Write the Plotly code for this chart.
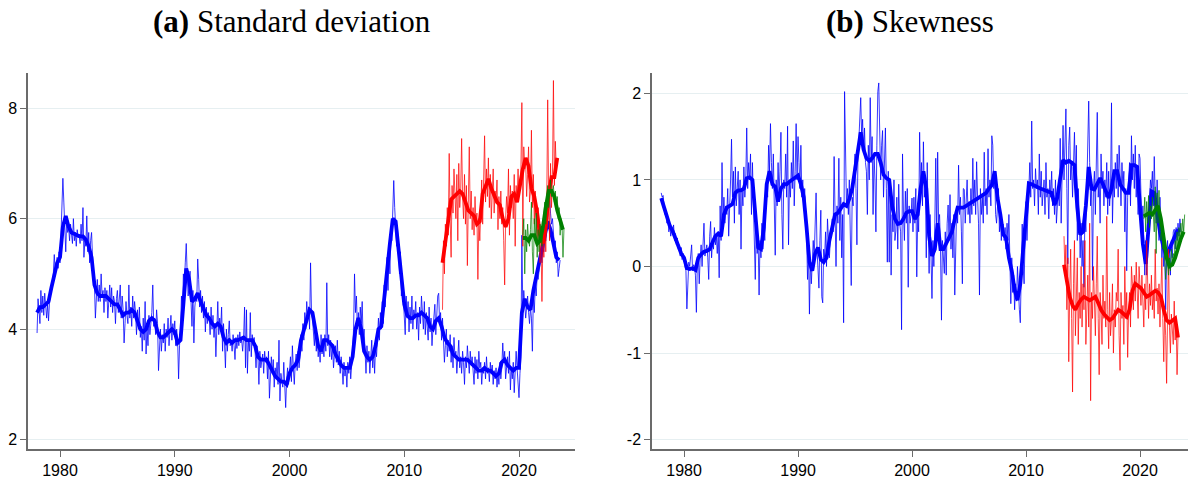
import numpy as np
import plotly.graph_objects as go

# ---------------- data ----------------
# monthly series start dates (decimal years) and quarterly smoothed series
BLUE_START = 1978.0
RED_START = 2013 + 4 / 12
GREEN_START = 2020 + 4 / 12

sd_blue = [
    3.93, 4.55, 4.35, 4.1, 4.7, 4.3, 4.6, 4.25, 4.65, 4.4, 4.2, 4.45,
    4.15, 4.5, 4.6, 4.7, 4.85, 5.0, 5.35, 5.05, 5.2, 5.3, 5.1, 5.4,
    5.2, 5.7, 6.1, 6.73, 6.3, 5.9, 5.4, 6.0, 5.75, 5.85, 5.6, 5.9,
    5.7, 5.55, 6.0, 5.6, 5.75, 5.5, 5.8, 5.65, 5.7, 5.55, 5.9, 5.6,
    6.2, 5.3, 5.6, 5.5, 6.05, 5.4, 5.75, 5.2, 5.6, 5.75, 5.3, 5.0,
    4.8, 4.2, 4.6, 4.9, 4.5, 4.8, 4.5, 5.0, 4.6, 4.7, 4.3, 4.75,
    4.5, 4.7, 4.2, 4.6, 4.8, 4.4, 4.75, 4.3, 4.6, 4.5, 4.1, 4.55,
    4.7, 4.3, 4.5, 4.8, 4.2, 4.6, 4.35, 3.75, 4.1, 4.5, 4.25, 4.1,
    4.8, 4.2, 4.4, 4.05, 4.6, 4.2, 4.5, 4.3, 3.9, 4.35, 4.0, 4.4,
    3.85, 4.05, 3.6, 4.2, 3.8, 4.5, 3.55, 4.0, 3.7, 4.25, 3.9, 4.1,
    4.3, 4.8, 4.05, 4.2, 3.9, 4.35, 4.1, 3.25, 3.8, 4.0, 3.6, 3.9,
    3.75, 4.1, 3.6, 4.0, 3.85, 4.2, 3.7, 3.95, 4.25, 3.8, 4.1, 3.9,
    4.15, 3.7, 4.0, 3.8, 3.1, 3.7, 4.0, 4.6, 4.2, 5.0, 4.8, 5.2,
    5.55, 5.0, 4.6, 4.8, 5.05, 4.5, 4.05, 4.7, 3.75, 4.4, 4.6, 4.5,
    5.27, 4.9, 4.4, 4.7, 4.3, 4.6, 4.2, 4.5, 3.95, 4.4, 4.1, 4.3,
    4.2, 3.9, 4.4, 4.0, 4.25, 3.85, 4.1, 3.5, 4.0, 4.5, 3.9, 4.2,
    4.0, 4.4, 3.6, 4.1, 3.75, 3.3, 4.0, 3.6, 3.9, 4.15, 3.7, 3.8,
    3.6, 3.9, 3.7, 3.45, 3.85, 3.65, 3.9, 3.7, 3.95, 3.75, 3.8, 3.6,
    3.85, 4.4, 3.3, 4.35, 3.2, 3.8, 3.6, 4.3, 3.5, 3.9, 3.7, 3.85,
    3.6, 3.3, 3.7, 3.5, 3.0, 3.6, 3.3, 3.45, 3.55, 3.2, 3.6, 3.4,
    3.5, 3.1, 3.6, 2.75, 3.3, 3.5, 3.2, 3.45, 2.95, 3.3, 3.15, 3.4,
    3.0, 3.8, 2.7, 3.2, 3.05, 2.95, 3.4, 2.8, 2.58, 3.1, 3.3, 3.0,
    3.2, 3.5, 3.05, 3.7, 3.3, 3.0, 3.4, 3.55, 3.25, 3.6, 3.3, 3.5,
    3.9, 3.6, 4.1, 3.8, 4.3, 4.0, 4.5, 4.2, 4.4, 4.0, 5.2, 4.3,
    4.2, 4.0, 3.7, 4.1, 3.6, 3.85, 3.5, 3.7, 3.4, 3.9, 3.55, 3.7,
    3.5, 3.9, 3.6, 4.84, 3.7, 3.9, 3.5, 3.8, 3.45, 3.7, 3.3, 3.55,
    3.7, 3.4, 3.8, 3.35, 3.6, 3.2, 3.5, 3.3, 3.0, 3.4, 3.15, 3.3,
    2.95, 3.4, 3.2, 3.5, 3.1, 3.35, 3.6, 4.0, 5.0, 4.3, 4.6, 4.0,
    4.3, 3.9, 4.4, 4.1, 4.5, 3.8, 4.0, 3.5, 3.2, 3.7, 3.4, 3.6,
    3.2, 3.5, 3.8, 3.3, 3.6, 3.2, 3.7, 3.5, 3.9, 4.2, 3.8, 4.3,
    4.0, 4.5, 4.1, 4.8, 4.4, 4.9, 5.3, 4.7, 5.4, 5.0, 5.8, 5.6,
    6.1, 6.69, 6.2, 5.9, 5.5, 5.8, 5.3, 5.0, 5.4, 4.6, 4.9, 4.5,
    4.3, 3.9, 4.6, 4.2, 4.5, 3.95, 4.4, 4.1, 4.6, 4.0, 4.35, 4.2,
    4.5, 4.0, 4.3, 3.8, 4.4, 4.1, 4.6, 4.2, 4.0, 4.5, 3.9, 4.3,
    4.1, 3.8, 4.4, 3.95, 4.2, 3.7, 4.0, 4.3, 4.45, 3.9, 4.2, 4.6,
    4.65, 4.1, 4.3, 3.8, 4.2, 3.9, 3.4, 3.7, 4.0, 3.5, 3.8, 3.6,
    3.9, 3.4, 3.7, 3.3, 3.85, 3.5, 3.6, 3.2, 3.5, 3.8, 3.3, 3.5,
    3.2, 3.6, 3.4, 3.0, 3.5, 3.3, 3.7, 3.4, 3.2, 3.6, 3.35, 3.5,
    3.3, 3.0, 3.5, 3.2, 3.45, 3.1, 3.6, 3.3, 3.4, 3.0, 3.3, 3.2,
    3.4, 3.1, 3.5, 3.2, 3.3, 3.05, 3.4, 3.2, 3.35, 3.0, 3.25, 3.1,
    3.3, 2.95, 3.2, 3.0, 3.4, 3.1, 3.3, 3.75, 3.4, 3.6, 3.1, 3.35,
    3.5, 3.2, 3.6, 2.9, 3.3, 3.1, 3.4, 2.85, 3.2, 3.6, 3.3, 3.1,
    2.76, 3.2, 3.5, 5.7, 4.3, 4.7, 4.5, 4.2, 4.4, 4.6, 4.3, 4.1,
    4.4, 4.2, 3.6, 4.6, 4.3, 4.8, 4.6, 5.0, 4.9, 5.1, 5.3, 5.4,
    5.2, 5.5, 5.4, 5.7, 5.6, 5.8, 6.0, 6.2, 6.38, 6.1, 5.9, 6.0,
    5.7, 5.5, 5.6, 5.2, 5.4, 4.95, 5.1, 5.25,
]

sd_blue_smooth = [
    4.3, 4.4, 4.4, 4.45, 4.5, 4.75, 5.0, 5.2, 5.3, 5.85, 6.05, 5.85,
    5.75, 5.72, 5.7, 5.68, 5.68, 5.62, 5.5, 5.3, 4.8, 4.65, 4.6, 4.6,
    4.6, 4.55, 4.5, 4.45, 4.45, 4.35, 4.25, 4.3, 4.3, 4.35, 4.3, 4.15,
    4.0, 3.95, 4.0, 4.15, 4.2, 4.15, 3.95, 3.85, 3.85, 3.9, 3.95, 4.0,
    3.95, 3.75, 3.8, 4.5, 5.1, 4.9, 4.5, 4.55, 4.65, 4.5, 4.35, 4.25,
    4.2, 4.1, 4.05, 4.1, 4.05, 3.85, 3.75, 3.8, 3.75, 3.8, 3.8, 3.82,
    3.85, 3.8, 3.8, 3.8, 3.7, 3.5, 3.45, 3.45, 3.45, 3.35, 3.25, 3.15,
    3.1, 3.05, 3.05, 3.0, 3.2, 3.3, 3.35, 3.45, 3.8, 4.0, 4.2, 4.35,
    4.3, 4.0, 3.7, 3.6, 3.8, 3.8, 3.75, 3.7, 3.55, 3.45, 3.35, 3.3,
    3.3, 3.3, 3.5, 4.0, 4.2, 4.0, 3.6, 3.5, 3.45, 3.5, 3.7, 4.0,
    4.05, 4.6, 5.1, 5.55, 6.0, 5.95, 5.45, 4.9, 4.45, 4.25, 4.2, 4.2,
    4.25, 4.25, 4.3, 4.25, 4.2, 4.05, 4.0, 4.15, 4.2, 4.05, 3.85, 3.75,
    3.7, 3.55, 3.5, 3.45, 3.45, 3.45, 3.45, 3.4, 3.35, 3.3, 3.25, 3.25,
    3.3, 3.25, 3.25, 3.2, 3.15, 3.2, 3.4, 3.45, 3.35, 3.3, 3.25, 3.3,
    3.3, 4.3, 4.55, 4.4, 4.35, 4.7, 5.0, 5.2, 5.45, 5.75, 5.95, 5.8,
    5.55, 5.3, 5.25,
]

sd_red = [
    4.35, 5.6, 5.0, 5.9, 5.5, 6.2, 5.7, 7.18,
    6.0, 5.3, 6.6, 6.1, 6.9, 6.3, 6.0, 6.8, 5.6, 7.0, 6.2, 6.5,
    7.45, 6.4, 6.0, 6.8, 5.9, 6.6, 5.15, 6.3, 7.3, 6.0, 6.5, 5.8,
    6.2, 5.7, 6.4, 5.9, 6.1, 4.9, 6.0, 5.6, 6.3, 6.7, 5.9, 6.5,
    7.5, 6.3, 6.9, 6.4, 7.1, 6.2, 6.8, 6.0, 6.6, 6.9, 6.1, 6.5,
    6.3, 6.7, 5.8, 6.4, 6.0, 6.5, 5.9, 6.2, 5.6, 4.8, 6.0, 6.4,
    6.1, 6.9, 5.7, 6.6, 6.2, 6.5, 6.0, 6.8, 5.5, 6.6, 6.3, 6.9,
    6.4, 6.8, 6.9, 8.1, 5.5, 7.3, 6.9, 7.0, 6.4, 6.8, 7.3, 6.3,
    6.5, 7.6, 6.2, 6.8, 5.9, 6.5, 6.1, 5.5, 6.2, 5.8, 5.2, 5.6,
    4.5, 5.6, 5.3, 6.0, 5.4, 6.3, 8.15, 6.4, 5.6, 7.0, 6.2, 6.8,
    8.5, 6.6, 7.4, 6.9, 7.1,
]

sd_red_smooth = [
    5.2, 5.6, 5.9, 6.35, 6.4, 6.45, 6.5, 6.45, 6.3, 6.15, 6.1, 6.05,
    5.9, 5.95, 6.45, 6.6, 6.72, 6.55, 6.4, 6.3, 6.25, 6.0, 5.85, 6.0,
    6.4, 6.45, 6.3, 6.65, 6.9, 7.1, 6.95, 6.55, 6.4, 6.1, 5.7, 5.55,
    5.85, 6.45, 6.75, 6.75, 7.1,
]

sd_green = [
    5.7, 6.0, 5.0, 5.8, 5.4, 5.9, 5.6, 5.5,
    5.8, 6.3, 5.4, 5.0, 6.0, 5.6, 6.1, 5.3, 5.8, 5.4, 5.9, 5.7,
    5.5, 5.9, 6.1, 6.3, 5.9, 6.4, 6.6, 6.2, 6.5, 6.7, 6.4, 6.55,
    6.6, 6.3, 6.5, 6.2, 6.4, 6.0, 6.2, 5.7, 6.0, 5.9, 5.3, 5.8,
]

sd_green_smooth = [
    5.65, 5.65, 5.6, 5.7, 5.7, 5.55, 5.6, 5.85, 6.2, 6.5, 6.5, 6.4,
    6.15, 5.95, 5.8,
]

sk_blue = [
    0.85, 0.8, 0.82, 0.7, 0.6, 0.63, 0.5, 0.55, 0.4, 0.48, 0.35, 0.45,
    0.4, 0.48, 0.3, 0.38, 0.25, 0.33, 0.2, 0.25, 0.12, 0.22, 0.08, 0.15,
    0.1, 0.0, -0.05, -0.49, -0.05, 0.05, 0.0, 0.1, 0.25, -0.05, 0.02, 0.0,
    -0.1, -0.53, 0.05, 0.15, -0.2, 0.1, 0.25, 0.0, 0.2, 0.5, 0.12, 0.2,
    0.25, 0.1, -0.15, 0.35, 0.52, 0.1, 0.3, 0.2, 0.45, 0.25, 0.35, 0.15,
    0.4, -0.13, 0.7, 0.3, 1.2, 0.55, 0.8, 0.5, 0.7, 0.6, 0.9, 0.35,
    0.6, 1.0, 1.47, 0.8, 1.1, 0.5, 1.15, 0.7, 0.9, 1.1, 0.6, 1.0,
    0.2, 0.9, 0.7, 1.15, 0.8, 1.0, 1.6, 0.9, 1.2, 1.0, 1.3, 0.6,
    1.2, 0.8, 0.4, -0.15, 0.5, 0.15, 0.3, -0.33, 0.3, 0.1, 0.5, 0.2,
    0.5, 0.3, 0.7, 1.0, 0.8, 1.4, 1.1, 1.65, 1.2, 0.9, 1.3, 0.6,
    0.13, 1.0, 0.7, 1.2, 0.8, 1.1, 1.55, 0.6, 0.2, 1.0, 0.9, 1.3,
    0.8, 1.62, 0.25, 1.0, 0.8, 1.2, 0.9, 1.45, 0.7, 1.1, 1.65, 1.0,
    1.5, 1.2, 0.9, 1.4, 0.8, 1.0, 0.65, 0.9, 0.7, 0.4, -0.15, 0.2,
    -0.55, 0.1, -0.2, 0.0, 0.3, 0.1, 0.5, 0.85, 0.2, -0.1, -0.25, 0.3,
    0.65, -0.35, -0.42, 0.2, 0.1, 0.4, 0.0, 0.55, 0.2, 0.1, 0.3, 0.5,
    0.55, 0.4, 1.27, 0.6, 0.0, 0.7, 0.5, 1.25, 0.3, 0.8, 0.1, 0.6,
    -0.65, 2.02, 1.45, 0.7, 0.9, 0.6, 1.0, 0.4, -0.22, 0.8, 0.7, 1.1,
    1.3, 0.9, 0.25, 1.2, 1.4, 1.6, 1.95, 1.5, 1.7, 1.3, 1.6, 1.2,
    1.1, 0.6, 1.4, 1.0, 1.95, 1.2, 1.5, 0.6, 1.3, 1.0, 0.4, 1.4,
    2.02, 2.12, 1.2, 1.0, 1.4, 1.57, 0.8, 1.2, 1.6, 0.9, 0.05, 1.1,
    0.05, 0.9, -0.1, 0.6, 0.4, 1.0, 0.3, 0.41, 0.8, 0.2, 0.95, 0.5,
    0.4, -0.73, 1.3, 0.6, 0.3, 0.87, 0.5, 0.9, -0.24, 0.7, 0.5, 0.6,
    0.79, 0.4, 0.8, 0.5, 0.9, -0.12, 0.6, 0.4, 1.55, 0.9, 1.2, 0.7,
    1.44, 0.8, 1.0, 0.1, 1.2, 0.5, -0.08, 0.6, 0.2, -0.37, 0.3, 0.0,
    0.5, 1.25, 0.3, 1.32, 0.5, 0.6, 0.2, -0.62, 0.3, 0.1, -0.08, 0.4,
    -0.1, 0.5, 0.71, 0.3, 0.83, 0.2, 0.5, 0.1, 0.6, -0.33, 0.4, 0.7,
    0.5, 1.17, 0.6, 0.8, 0.4, -0.2, 0.9, 0.89, 0.5, 0.7, 1.0, 0.6,
    0.75, 0.5, 0.9, 0.6, 1.25, 0.7, 1.0, 0.6, 1.21, 0.8, 0.5, -0.33,
    0.9, 0.6, 0.8, 0.5, 1.32, 0.7, 0.9, 0.6, 1.36, 0.8, 1.0, 0.7,
    1.51, 1.4, 0.9, 1.1, 0.6, 0.5, 0.75, 0.9, 0.4, 0.6, 0.3, 0.5,
    0.49, 0.3, 0.45, 0.2, 0.5, 0.3, 0.6, 0.0, -0.43, 0.1, -0.3, -0.1,
    -0.5, -0.2, -0.4, 0.0, -0.3, -0.5, -0.65, -0.1, 0.49, 0.0, -0.2, 0.3,
    0.75, 0.3, 0.6, 0.9, 1.2, 0.8, 1.68, 0.9, 1.0, 0.7, 1.13, 0.9,
    1.0, 0.6, 1.3, 0.8, 1.1, 0.7, 0.9, 1.0, 0.6, 1.2, 0.8, 0.9,
    0.55, 1.0, 0.8, 1.1, 0.7, 0.9, 0.6, 1.0, 0.5, 0.8, 0.9, 0.7,
    1.48, 0.5, 1.2, 1.63, 1.0, 1.3, 1.82, 0.9, 0.03, 1.4, 1.61, 1.0,
    1.2, 0.8, 1.3, 1.55, 1.0, 1.4, 0.3, 0.9, 0.6, 0.1, 0.5, 0.0,
    0.3, -0.24, 0.6, 0.4, 0.9, 1.5, 1.91, 1.2, 0.7, 1.0, -0.16, 0.9,
    1.1, 0.6, 1.2, 1.78, 0.8, 1.0, 0.5, 1.3, 0.9, 1.1, 0.7, 1.0,
    0.8, 1.2, 0.6, 1.1, 0.7, 0.9, 1.89, 0.5, 1.0, 0.8, 1.2, 0.9,
    1.3, 0.8, 1.4, 1.0, 0.7, 1.2, 0.9, 1.1, 0.4, 0.9, -0.05, 0.8,
    1.0, 1.2, 0.7, 1.51, 1.0, 1.3, 0.9, 1.4, 0.8, 1.17, 0.6, 1.3,
    1.25, 0.9, 0.4, 0.7, 0.2, -0.1, 0.3, -0.1, 0.1, 0.4, 0.6, 1.0,
    0.9, 1.1, 0.7, 1.27, 0.8, 0.5, 1.0, 0.6, 0.3, 0.8, 0.5, 0.1,
    0.3, 0.0, 0.2, -0.5, 0.1, 0.3, 0.0, 0.2, -0.1, 0.3, 0.1, 0.4,
    0.43, 0.2, 0.45, 0.3, 0.5, 0.35, 0.55, 0.4,
]

sk_blue_smooth = [
    0.79, 0.68, 0.57, 0.47, 0.41, 0.33, 0.25, 0.15, 0.1, -0.02, -0.03, -0.02,
    -0.04, 0.1, 0.14, 0.17, 0.18, 0.2, 0.28, 0.35, 0.38, 0.35, 0.6, 0.68,
    0.7, 0.72, 0.85, 0.88, 0.88, 0.9, 1.02, 1.03, 1.0, 0.6, 0.22, 0.2,
    0.45, 0.95, 1.1, 0.95, 0.92, 0.75, 0.9, 0.95, 0.95, 0.98, 1.0, 1.02,
    1.05, 0.95, 0.8, 0.45, 0.05, -0.05, 0.15, 0.22, 0.08, 0.05, 0.1, 0.3,
    0.45, 0.6, 0.62, 0.68, 0.72, 0.7, 0.78, 0.9, 1.1, 1.35, 1.55, 1.35,
    1.25, 1.22, 1.25, 1.3, 1.3, 1.2, 1.06, 1.02, 1.0, 0.7, 0.55, 0.49,
    0.5, 0.55, 0.62, 0.64, 0.64, 0.55, 0.6, 0.9, 1.1, 0.9, 0.35, 0.12,
    0.2, 0.5, 0.2, 0.2, 0.26, 0.33, 0.4, 0.55, 0.68, 0.68, 0.68, 0.7,
    0.72, 0.75, 0.77, 0.79, 0.8, 0.83, 0.85, 0.9, 0.94, 1.1, 0.79, 0.6,
    0.37, 0.33, 0.1, -0.05, -0.27, -0.39, -0.2, 0.2, 0.6, 0.96, 0.95, 0.93,
    0.92, 0.9, 0.89, 0.88, 0.87, 0.85, 0.71, 0.8, 1.02, 1.23, 1.2, 1.22,
    1.2, 1.17, 0.68, 0.37, 0.4, 0.7, 1.15, 0.9, 0.89, 0.95, 1.02, 0.95,
    0.87, 0.79, 0.9, 1.1, 1.1, 0.95, 0.9, 0.85, 0.85, 1.17, 1.17, 1.15,
    0.68, 0.26, 0.03, 0.5, 0.87, 0.85, 0.6, 0.4, 0.26, 0.14, 0.18, 0.25,
    0.32, 0.41, 0.42,
]

sk_red = [
    0.35, -0.1, 0.25, -0.5, 0.1, -1.1, -0.3, 0.2,
    -0.6, -1.45, -0.2, 0.3, -0.8, -0.4, 0.1, -0.9, -0.3, -0.6, 0.0, -0.7,
    -0.2, -0.5, 0.3, -0.9, -0.4, -0.1, -0.7, 0.5, -1.55, -0.3, -0.6, 0.0,
    -0.4, -0.8, -0.2, 0.35, -0.6, -1.25, -0.3, -0.5, -0.9, -0.1, -0.6, -0.4,
    -0.7, 0.58, -0.5, -0.95, -0.3, -0.8, -0.6, -0.2, -1.0, -0.5, -0.7, -0.3,
    -0.4, 0.2, -0.8, -1.2, -0.3, -0.6, -0.45, -0.9, 0.0, -0.6, -0.3, -1.05,
    -0.5, -0.3, -0.7, 0.0, -0.2, -0.5, -0.1, -0.4, 0.05, -0.3, -0.6, 0.0,
    -0.2, -0.45, -0.1, -0.4, -0.7, -0.2, -0.5, 0.3, -0.3, -0.6, -0.2, -0.45,
    -0.1, -0.5, -0.3, -0.6, 0.2, -0.4, -0.25, -0.55, -0.2, -0.7, -0.3, 0.1,
    -0.6, -1.1, -0.5, -0.8, -1.35, -0.5, 0.2, -0.7, -1.0, -0.55, -0.8, -0.9,
    -0.4, -0.85, -0.6, -1.25, -0.8,
]

sk_red_smooth = [
    0.02, -0.2, -0.35, -0.45, -0.5, -0.43, -0.38, -0.35, -0.37, -0.39, -0.37,
    -0.35, -0.42, -0.5, -0.55, -0.58, -0.62, -0.6, -0.55, -0.5, -0.52, -0.55,
    -0.58, -0.5, -0.28, -0.2, -0.22, -0.25, -0.3, -0.35, -0.33, -0.3, -0.28,
    -0.3, -0.35, -0.5, -0.62, -0.65, -0.62, -0.6, -0.82,
]

sk_green = [
    0.55, 0.8, 0.4, 0.75, 0.5, 0.82, 0.45, 0.7,
    0.55, 0.8, 0.6, 0.4, 0.92, 0.15, 0.85, 0.5, 0.88, 0.4, 0.3, 0.45,
    0.2, 0.35, 0.1, -0.15, 0.15, 0.0, -0.1, 0.1, -0.05, 0.2, 0.05, 0.15,
    0.1, 0.3, 0.2, 0.4, 0.25, 0.45, 0.3, 0.5, 0.35, 0.55, 0.4, 0.6,
]

sk_green_smooth = [
    0.58, 0.6, 0.62, 0.6, 0.65, 0.7, 0.55, 0.35, 0.1, 0.0, 0.02, 0.1,
    0.22, 0.32, 0.4,
]

panel_titles = ["<b>(a)</b> Standard deviation", "<b>(b)</b> Skewness"]
sd_ticks = [2, 4, 6, 8]
sd_ticklabels = ["2", "4", "6", "8"]
sk_ticks = [-2, -1, 0, 1, 2]
sk_ticklabels = ["-2", "-1", "0", "1", "2"]
year_ticks = [1980, 1990, 2000, 2010, 2020]
year_ticklabels = ["1980", "1990", "2000", "2010", "2020"]


def monthly(start, vals):
    return start + np.arange(len(vals)) / 12.0


def quarterly(start, vals):
    return start + np.arange(len(vals)) * 0.25


BLUE = "#0000ff"
RED = "#ff0000"
GREEN = "#008000"

fig = go.Figure()


def add_panel(xa, ya, thin_b, sm_b, thin_r, sm_r, thin_g, sm_g):
    specs = [
        (monthly(BLUE_START, thin_b), thin_b, "rgba(0,0,255,0.78)", 1.0),
        (quarterly(BLUE_START, sm_b), sm_b, BLUE, 3.8),
        (monthly(RED_START, thin_r), thin_r, "rgba(255,0,0,0.72)", 1.0),
        (quarterly(RED_START, sm_r), sm_r, RED, 3.8),
        (monthly(GREEN_START, thin_g), thin_g, "rgba(0,128,0,0.72)", 1.0),
        (quarterly(GREEN_START, sm_g), sm_g, GREEN, 3.8),
    ]
    for x, y, c, w in specs:
        fig.add_trace(go.Scatter(x=x, y=y, mode="lines", xaxis=xa, yaxis=ya,
                                 line=dict(color=c, width=w),
                                 showlegend=False, hoverinfo="skip"))


add_panel("x", "y", sd_blue, sd_blue_smooth, sd_red, sd_red_smooth, sd_green, sd_green_smooth)
add_panel("x2", "y2", sk_blue, sk_blue_smooth, sk_red, sk_red_smooth, sk_green, sk_green_smooth)

W, H = 1188, 479
top_px, bot_px = 74, 454
ydom = [1 - bot_px / H, 1 - top_px / H]

tickfont = dict(family="Liberation Sans, Arial, sans-serif", size=16, color="black")
axis_common = dict(showline=True, linecolor="#6b6b6b", linewidth=1.5, ticks="outside",
                   ticklen=6, tickwidth=1, tickcolor="#6b6b6b", tickfont=tickfont,
                   zeroline=False, mirror=False)

fig.update_layout(
    width=W, height=H, margin=dict(l=0, r=0, t=0, b=0),
    paper_bgcolor="white", plot_bgcolor="white",
    xaxis=dict(domain=[28 / W, 575 / W], range=[1977.21, 2024.88], tickvals=year_ticks,
               ticktext=year_ticklabels, showgrid=False, anchor="y", **axis_common),
    yaxis=dict(domain=ydom, range=[1.826, 8.632], tickvals=sd_ticks, ticktext=sd_ticklabels,
               showgrid=True, gridcolor="#e6eff1", gridwidth=1, anchor="x", **axis_common),
    xaxis2=dict(domain=[652 / W, 1.0], range=[1977.19, 2024.21], tickvals=year_ticks,
                ticktext=year_ticklabels, showgrid=False, anchor="y2", **axis_common),
    yaxis2=dict(domain=ydom, range=[-2.111, 2.232], tickvals=sk_ticks, ticktext=sk_ticklabels,
                showgrid=True, gridcolor="#e6eff1", gridwidth=1, anchor="x2", **axis_common),
)

title_font = dict(family="Liberation Serif, Times New Roman, serif", size=31, color="black")
for txt, cx in zip(panel_titles, [292, 910]):
    fig.add_annotation(text=txt, x=cx / W, y=1 - 22 / H, xref="paper", yref="paper",
                       xanchor="center", yanchor="middle", showarrow=False, font=title_font)

fig.write_html("out.html")
